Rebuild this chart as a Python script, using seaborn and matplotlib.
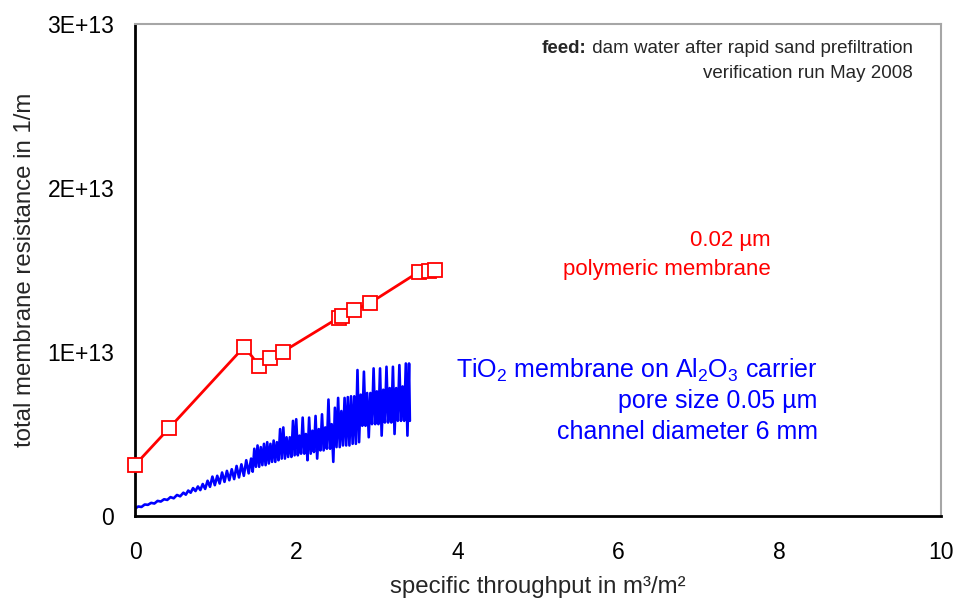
import matplotlib
matplotlib.use("Agg")
import matplotlib.pyplot as plt
import seaborn as sns
import numpy as np
import pandas as pd

# ---- data ----
red_x = [0.00, 0.42, 1.356, 1.542, 1.671, 1.836, 2.527, 2.565, 2.717, 2.919, 3.52, 3.644, 3.718]
red_y_e12 = [3.11, 5.34, 10.33, 9.15, 9.64, 10.02, 12.09, 12.20, 12.54, 13.00, 14.88, 14.95, 15.01]

blue_x = [0.00, 0.04, 0.08, 0.12, 0.16, 0.20, 0.24, 0.28, 0.32, 0.36, 0.40, 0.44, 0.48, 0.52,
          0.56, 0.60, 0.63, 0.66, 0.69, 0.72, 0.75, 0.78, 0.81, 0.84, 0.87, 0.90, 0.93, 0.96,
          0.99, 1.02, 1.05, 1.08, 1.11, 1.14, 1.17, 1.20, 1.23, 1.26, 1.29, 1.32, 1.35, 1.38,
          1.41,
          1.44, 1.46, 1.48, 1.50, 1.52, 1.54, 1.56, 1.58, 1.60, 1.62, 1.64, 1.66, 1.68, 1.70,
          1.72, 1.74, 1.76, 1.78, 1.80, 1.82, 1.84, 1.86, 1.88, 1.90, 1.92, 1.94, 1.96, 1.98,
          2.00, 2.02, 2.04, 2.06, 2.08, 2.10, 2.12, 2.14, 2.16, 2.18, 2.20, 2.22, 2.24, 2.26,
          2.28, 2.30, 2.32, 2.34, 2.36, 2.38, 2.40, 2.42, 2.44, 2.46, 2.48, 2.50, 2.52, 2.54,
          2.56, 2.58, 2.60, 2.62, 2.64, 2.66, 2.68, 2.70, 2.72, 2.74, 2.76, 2.78, 2.80, 2.82,
          2.84, 2.86, 2.88, 2.90, 2.92, 2.94, 2.96, 2.98, 3.00, 3.02, 3.04, 3.06, 3.08, 3.10,
          3.12, 3.14, 3.16, 3.18, 3.20, 3.22, 3.24, 3.26, 3.28, 3.30, 3.32, 3.34, 3.36, 3.38,
          3.40, 3.41]
blue_y_e12 = [0.45, 0.58, 0.55, 0.70, 0.68, 0.80, 0.76, 0.92, 0.88, 1.02, 0.98, 1.15, 1.08, 1.28,
              1.20, 1.42, 1.30, 1.55, 1.42, 1.70, 1.52, 1.80, 1.58, 1.95, 1.65, 2.15, 1.78, 2.40,
              1.88, 2.45, 1.98, 2.65, 2.08, 2.75, 2.18, 2.85, 2.25, 3.05, 2.35, 3.15, 2.45, 3.40,
              2.60,
              3.50, 2.70, 4.10, 3.00, 4.30, 3.00, 4.20, 3.10, 4.40, 3.10, 4.50, 3.20, 4.40, 3.30,
              4.60, 3.30, 4.50, 3.40, 5.30, 3.50, 5.40, 3.50, 4.80, 3.60, 4.80, 3.60, 5.80, 3.70,
              5.90, 3.70, 4.90, 3.80, 6.00, 3.80, 5.00, 3.40, 6.00, 3.80, 5.20, 3.90, 6.10, 3.50,
              5.30, 4.00, 6.20, 4.00, 5.40, 4.10, 7.10, 4.10, 5.60, 3.30, 6.60, 4.20, 7.20, 4.20,
              6.40, 4.30, 7.20, 4.30, 7.25, 4.30, 7.30, 4.40, 7.30, 4.40, 8.90, 4.50, 7.40, 5.50,
              8.80, 5.50, 7.50, 4.80, 7.50, 5.60, 9.00, 5.60, 7.60, 5.60, 9.00, 4.90, 7.70, 5.70,
              9.10, 5.70, 7.80, 5.70, 9.10, 5.00, 7.80, 5.80, 9.20, 5.80, 7.90, 5.80, 9.30, 4.90,
              9.30, 5.80]

x_ticks = [0, 2, 4, 6, 8, 10]
y_ticks = [0, 1e13, 2e13, 3e13]
y_tick_labels = ["0", "1E+13", "2E+13", "3E+13"]

red_df = pd.DataFrame({"x": red_x, "y": np.array(red_y_e12) * 1e12})
blue_df = pd.DataFrame({"x": blue_x, "y": np.array(blue_y_e12) * 1e12})

# ---- style ----
sns.set_style("white")
plt.rcParams["font.family"] = ["Liberation Sans", "DejaVu Sans"]
plt.rcParams["mathtext.fontset"] = "custom"
plt.rcParams["mathtext.rm"] = "Liberation Sans"

fig = plt.figure(figsize=(9.55, 6.03), dpi=100)
ax = fig.add_axes([0.1414, 0.1443, 0.9853 - 0.1414, 0.9602 - 0.1443])

sns.lineplot(data=blue_df, x="x", y="y", ax=ax, color="#0000ff", linewidth=1.9,
             estimator=None, sort=False, zorder=2)
sns.lineplot(data=red_df, x="x", y="y", ax=ax, color="#ff0000", linewidth=2,
             estimator=None, sort=False, marker="s", markersize=10,
             markerfacecolor="white", markeredgecolor="#ff0000", markeredgewidth=1.3,
             zorder=3, clip_on=False)

ax.set_xlim(0, 10)
ax.set_ylim(0, 3e13)
ax.set_xticks(x_ticks)
ax.set_xticklabels([str(t) for t in x_ticks])
ax.set_yticks(y_ticks)
ax.set_yticklabels(y_tick_labels)
ax.tick_params(axis="both", direction="out", length=6, width=1.5, color="black",
               labelsize=16.5, labelcolor="black")
ax.tick_params(axis="y", pad=9)
ax.tick_params(axis="x", pad=12)

for s in ["left", "bottom"]:
    ax.spines[s].set_color("black")
    ax.spines[s].set_linewidth(2)
for s in ["top", "right"]:
    ax.spines[s].set_color("#a6a6a6")
    ax.spines[s].set_linewidth(1.5)

ax.set_xlabel("specific throughput in m³/m²", fontsize=17.3, labelpad=9)
ax.set_ylabel("total membrane resistance in 1/m", fontsize=17.3, labelpad=8)

# annotations
t_rest = ax.text(9.65, 28.5e12, " dam water after rapid sand prefiltration",
                 ha="right", va="center", fontsize=13.5)
fig.canvas.draw()
bb = t_rest.get_window_extent(renderer=fig.canvas.get_renderer())
x_left_data = ax.transData.inverted().transform((bb.x0, bb.y0))[0]
ax.text(x_left_data, 28.5e12, "feed:", ha="right", va="center", fontsize=13.5,
        fontweight="bold")
ax.text(9.65, 27.0e12, "verification run May 2008", ha="right", va="center", fontsize=13.5)

ax.text(7.89, 16.8e12, "0.02 µm", ha="right", va="center", fontsize=16, color="#ff0000")
ax.text(7.89, 15.0e12, "polymeric membrane", ha="right", va="center", fontsize=16, color="#ff0000")

ax.text(8.47, 8.9e12, r"TiO$_\mathregular{2}$ membrane on Al$_\mathregular{2}$O$_\mathregular{3}$ carrier",
        ha="right", va="center", fontsize=18, color="#0000ff")
ax.text(8.47, 7.0e12, "pore size 0.05 µm", ha="right", va="center", fontsize=18, color="#0000ff")
ax.text(8.47, 5.12e12, "channel diameter 6 mm", ha="right", va="center", fontsize=18, color="#0000ff")

fig.savefig("out.png", dpi=100)
